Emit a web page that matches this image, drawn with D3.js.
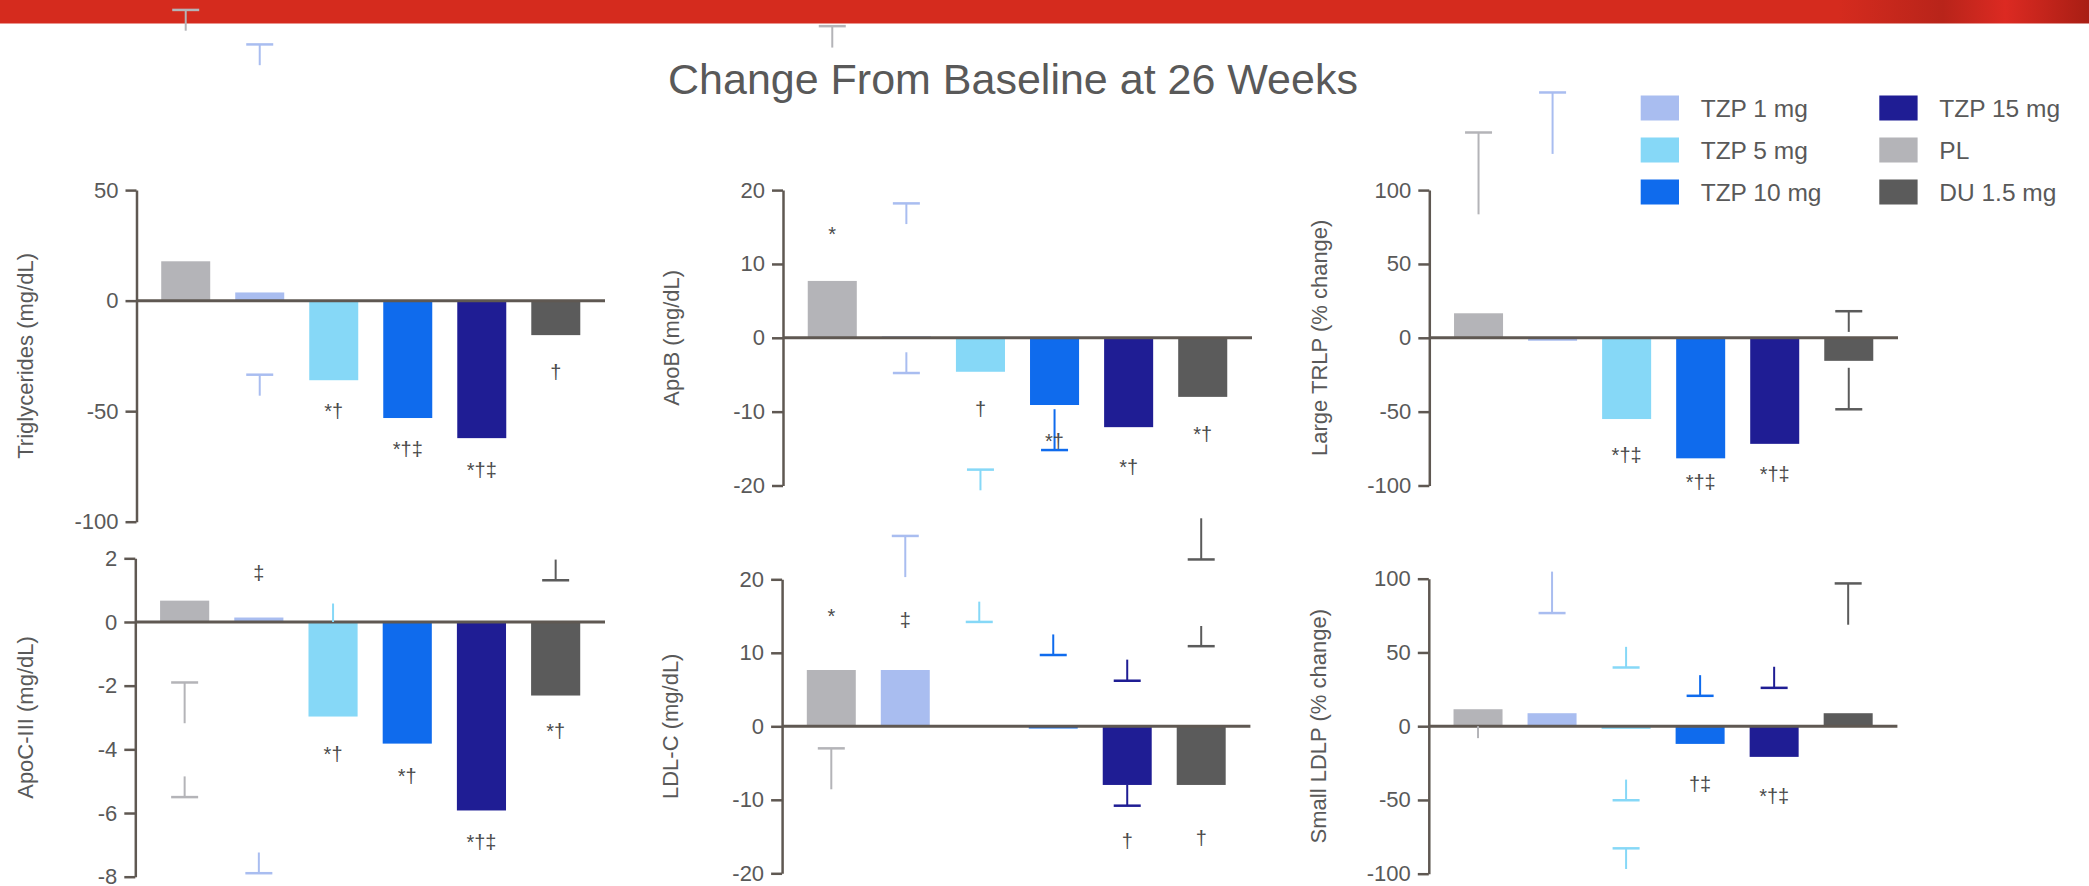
<!DOCTYPE html>
<html>
<head>
<meta charset="utf-8">
<script src="https://cdn.jsdelivr.net/npm/d3@7"></script>
<style>
  body { margin: 0; background: #fff; }
  text { font-family: "Liberation Sans", Arial, sans-serif; }
</style>
</head>
<body>
<div id="chart"></div>
<script>
// groups, in the order the bars are drawn
const groups = ["PL", "TZP 1 mg", "TZP 5 mg", "TZP 10 mg", "TZP 15 mg", "DU 1.5 mg"];
const groupColors = ["#b4b4b8", "#a9bdf0", "#86d8f7", "#0f6bed", "#1f1d94", "#5b5b5b"];
const legendOrder = [1, 2, 3, 4, 0, 5];

// change from baseline values
const triglycerides = [17.8, 3.7, -36, -53.1, -62.2, -15.6];
const apoB = [7.7, 0.2, -4.6, -9.1, -12.1, -8.0];
const largeTRLP = [16.6, -2, -55, -81.6, -71.8, -15.6];
const apoC3 = [0.67, 0.14, -2.97, -3.82, -5.92, -2.31];
const ldlC = [7.66, 7.66, 0, -0.3, -7.98, -7.98];
const smallLDLP = [11.5, 8.8, -1.8, -12, -20.8, 8.8];

// tick values
const triTicks = [50, 0, -50, -100];
const apoBTicks = [20, 10, 0, -10, -20];
const trlpTicks = [100, 50, 0, -50, -100];
const apoC3Ticks = [2, 0, -2, -4, -6, -8];
const ldlTicks = [20, 10, 0, -10, -20];
const ldlpTicks = [100, 50, 0, -50, -100];

// significance marks: [group, text, value]
const triNotes = [[2, "*†", -50], [3, "*†‡", -67.1], [4, "*†‡", -76.8], [5, "†", -32.1]];
const apoBNotes = [[0, "*", 14], [2, "†", -9.7], [3, "*†", -14], [4, "*†", -17.5], [5, "*†", -13]];
const trlpNotes = [[2, "*†‡", -79.4], [3, "*†‡", -97.7], [4, "*†‡", -92.5]];
const apoC3Notes = [[1, "‡", 1.54], [2, "*†", -4.15], [3, "*†", -4.83], [4, "*†‡", -6.92], [5, "*†", -3.41]];
const ldlNotes = [[0, "*", 15], [1, "‡", 14.5], [4, "†", -15.6], [5, "†", -15.2]];
const ldlpNotes = [[3, "†‡", -38.9], [4, "*†‡", -47.1]];

// stray error-bar pieces: [group, cap value (null = no cap), stem start, stem end]
const triErr = [[0, 131.5, 131.5, 122.1], [1, 115.9, 115.9, 106.5], [1, -33.5, -33.5, -43]];
const apoBErr = [[0, 42.2, 42.2, 39.3], [1, 18.2, 18.2, 15.4], [1, -4.77, -4.77, -1.96],
                 [2, -17.85, -17.85, -20.65], [3, -15.2, -15.2, -9.67]];
const trlpErr = [[0, 139, 139, 83.6], [1, 166.1, 166.1, 124.5], [5, 18, 18, 4], [5, -48.4, -48.4, -20.3]];
const apoC3Err = [[0, -1.9, -1.9, -3.18], [0, -5.5, -5.5, -4.85], [1, -7.89, -7.89, -7.24],
                  [2, null, 0, 0.58], [5, 1.31, 1.31, 1.96]];
const ldlErr = [[0, -3, -3, -8.57], [1, 25.9, 25.9, 20.3], [2, 14.2, 14.2, 16.96], [3, 9.7, 9.7, 12.5],
                [4, 6.2, 6.2, 9.07], [4, -10.8, -10.8, -7.98], [5, 22.7, 22.7, 28.3], [5, 10.9, 10.9, 13.65]];
const ldlpErr = [[0, null, 0, -8.1], [1, 76.7, 76.7, 104.8], [2, 39.8, 39.8, 53.8], [2, -50.2, -50.2, -36.2],
                 [2, -82.8, -82.8, -96.8], [3, 20.6, 20.6, 34.6], [4, 26, 26, 40.3], [5, 96.8, 96.8, 68.8]];

const width = 2089, height = 886;
const axisColor = "#5f5852";
const textColor = "#595959";

const panels = [
  { label: "Triglycerides (mg/dL)", values: triglycerides, ticks: triTicks, notes: triNotes, err: triErr,
    left: 136.5, right: 605, top: 190.1, bottom: 521.7, titleX: 33.3 },
  { label: "ApoB (mg/dL)", values: apoB, ticks: apoBTicks, notes: apoBNotes, err: apoBErr,
    left: 783, right: 1252, top: 190.1, bottom: 485.5, titleX: 679 },
  { label: "Large TRLP (% change)", values: largeTRLP, ticks: trlpTicks, notes: trlpNotes, err: trlpErr,
    left: 1429.3, right: 1898, top: 190.1, bottom: 485.5, titleX: 1326.6 },
  { label: "ApoC-III (mg/dL)", values: apoC3, ticks: apoC3Ticks, notes: apoC3Notes, err: apoC3Err,
    left: 135.3, right: 605, top: 558.3, bottom: 876.7, titleX: 33.3 },
  { label: "LDL-C (mg/dL)", values: ldlC, ticks: ldlTicks, notes: ldlNotes, err: ldlErr,
    left: 782.1, right: 1250.4, top: 579.3, bottom: 873.3, titleX: 677.5 },
  { label: "Small LDLP (% change)", values: smallLDLP, ticks: ldlpTicks, notes: ldlpNotes, err: ldlpErr,
    left: 1428.8, right: 1897.4, top: 578.7, bottom: 873.7, titleX: 1325.6 }
];

const svg = d3.select("#chart").append("svg")
  .attr("width", width)
  .attr("height", height);

// red banner on top
const grad = svg.append("defs").append("linearGradient")
  .attr("id", "band").attr("x1", "0%").attr("x2", "100%");
grad.append("stop").attr("offset", "0.88").attr("stop-color", "#d52b1e");
grad.append("stop").attr("offset", "0.93").attr("stop-color", "#b8241a");
grad.append("stop").attr("offset", "0.96").attr("stop-color", "#dc2a22");
grad.append("stop").attr("offset", "1").attr("stop-color", "#a81e14");
svg.append("rect")
  .attr("x", 0).attr("y", 0)
  .attr("width", width).attr("height", 23.5)
  .attr("fill", "url(#band)");

// title
svg.append("text")
  .attr("x", 668)
  .attr("y", 94)
  .attr("font-size", 43)
  .attr("fill", textColor)
  .text("Change From Baseline at 26 Weeks");

panels.forEach(function(p) {
  const x = d3.scaleBand()
    .domain(d3.range(groups.length))
    .range([p.left, p.right])
    .paddingInner(0.338)
    .paddingOuter(0.334);
  const y = d3.scaleLinear()
    .domain([d3.min(p.ticks), d3.max(p.ticks)])
    .range([p.bottom, p.top]);

  const g = svg.append("g");

  // Draw bars
  g.selectAll(".bar")
    .data(p.values)
    .enter()
    .append("rect")
      .attr("class", "bar")
      .attr("x", function(d, i) { return x(i); })
      .attr("width", x.bandwidth())
      .attr("y", function(d) { return y(Math.max(0, d)); })
      .attr("height", function(d) { return Math.abs(y(d) - y(0)); })
      .attr("fill", function(d, i) { return groupColors[i]; });

  // y axis, plain hyphen for negatives like the slide
  const axis = g.append("g")
    .attr("transform", "translate(" + p.left + ",0)")
    .call(d3.axisLeft(y)
      .tickValues(p.ticks)
      .tickFormat(function(d) { return String(d); })
      .tickSize(11).tickSizeOuter(0).tickPadding(7));
  axis.select(".domain").attr("stroke", axisColor).attr("stroke-width", 2.5);
  axis.selectAll(".tick line").attr("stroke", axisColor).attr("stroke-width", 2.5);
  axis.selectAll(".tick text")
    .attr("font-size", 22)
    .attr("font-family", "Liberation Sans, Arial, sans-serif")
    .attr("fill", textColor);

  // zero line
  g.append("line")
    .attr("x1", p.left).attr("x2", p.right)
    .attr("y1", y(0)).attr("y2", y(0))
    .attr("stroke", axisColor)
    .attr("stroke-width", 3);

  // axis title
  g.append("text")
    .attr("transform", "translate(" + p.titleX + "," + ((p.top + p.bottom) / 2) + ") rotate(-90)")
    .attr("text-anchor", "middle")
    .attr("font-size", 22)
    .attr("fill", textColor)
    .text(p.label);

  // stray error bar pieces
  const cx = function(d) { return x(d[0]) + x.bandwidth() / 2; };
  g.selectAll(".stem")
    .data(p.err)
    .enter()
    .append("line")
      .attr("class", "stem")
      .attr("x1", cx).attr("x2", cx)
      .attr("y1", function(d) { return y(d[2]); })
      .attr("y2", function(d) { return y(d[3]); })
      .attr("stroke", function(d) { return groupColors[d[0]]; })
      .attr("stroke-width", 2);
  g.selectAll(".cap")
    .data(p.err.filter(function(d) { return d[1] !== null; }))
    .enter()
    .append("line")
      .attr("class", "cap")
      .attr("x1", function(d) { return cx(d) - 13.5; })
      .attr("x2", function(d) { return cx(d) + 13.5; })
      .attr("y1", function(d) { return y(d[1]); })
      .attr("y2", function(d) { return y(d[1]); })
      .attr("stroke", function(d) { return groupColors[d[0]]; })
      .attr("stroke-width", 2.5);

  // significance marks
  g.selectAll(".note")
    .data(p.notes)
    .enter()
    .append("text")
      .attr("class", "note")
      .attr("x", cx)
      .attr("y", function(d) { return y(d[2]); })
      .attr("dy", "0.35em")
      .attr("text-anchor", "middle")
      .attr("font-size", 20)
      .attr("fill", "#4a4a4a")
      .text(function(d) { return d[1]; });
});

// legend, two columns of three
const legend = svg.append("g");
legendOrder.forEach(function(gi, k) {
  const col = Math.floor(k / 3), row = k % 3;
  const lx = 1640.7 + col * 238.6;
  const ly = 108 + row * 42;
  legend.append("rect")
    .attr("x", lx).attr("y", ly - 12.5)
    .attr("width", 38.3).attr("height", 25)
    .attr("fill", groupColors[gi]);
  legend.append("text")
    .attr("x", lx + 60)
    .attr("y", ly)
    .attr("dy", "0.35em")
    .attr("font-size", 24.5)
    .attr("fill", textColor)
    .text(groups[gi]);
});
</script>
</body>
</html>
